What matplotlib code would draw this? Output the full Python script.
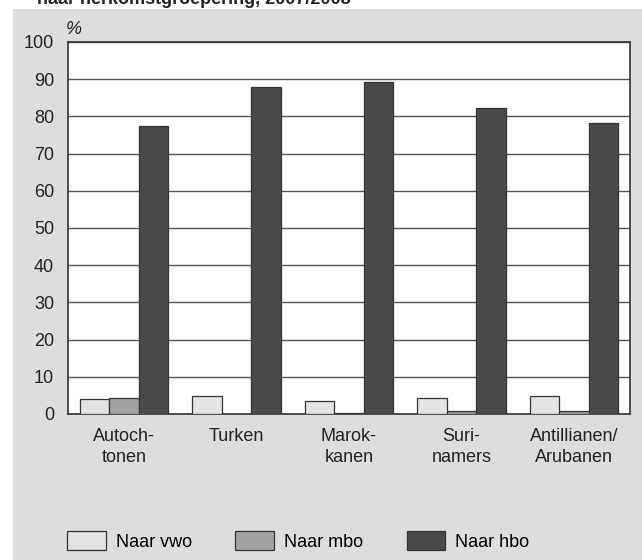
import matplotlib
matplotlib.use('Agg')
import matplotlib.pyplot as plt
import matplotlib.patches as mpatches
import numpy as np

plt.rcParams['font.family'] = ['Liberation Sans', 'DejaVu Sans']

# data
groups = ['Autoch-\ntonen', 'Turken', 'Marok-\nkanen', 'Suri-\nnamers', 'Antillianen/\nArubanen']
series = ['Naar vwo', 'Naar mbo', 'Naar hbo']
vwo = [4.0, 4.9, 3.6, 4.4, 4.9]
mbo = [4.2, 0.1, 0.4, 0.9, 0.7]
hbo = [77.5, 88.0, 89.3, 82.3, 78.3]
colors = ['#e2e3e5', '#a0a1a3', '#4a4a4c']
yticks = list(range(0, 101, 10))

W, H = 642, 560
fig = plt.figure(figsize=(W / 100, H / 100), dpi=100)
fig.patch.set_facecolor('white')

# grey panel behind the chart
panel = mpatches.Rectangle((13 / W, 0), 1 - 13 / W, 1 - 9 / H, transform=fig.transFigure,
                           facecolor='#dcdddf', edgecolor='none', zorder=-10)
fig.patches.append(panel)

# title, mostly cut off at the top edge (as in the source)
fig.text(37 / W, 1 - 4 / H, 'naar herkomstgroepering, 2007/2008', fontsize=13,
         fontweight='bold', va='baseline', ha='left', color='#222222')

ax = fig.add_axes([68 / W, 1 - 414 / H, 562 / W, 372 / H])
ax.set_facecolor('white')

x = np.arange(len(groups))
bw = 0.262
handles = []
for i, (vals, c, name) in enumerate(zip([vwo, mbo, hbo], colors, series)):
    b = ax.bar(x + (i - 1) * bw, vals, bw, color=c, edgecolor='#333333',
               linewidth=0.9, label=name, zorder=3)
    handles.append(b)

ax.set_xlim(-0.5, len(groups) - 0.5)
ax.set_ylim(0, 100)
ax.set_yticks(yticks)
ax.set_yticklabels([str(t) for t in yticks])
ax.set_xticks(x)
ax.set_xticklabels(groups, linespacing=1.3)
ax.tick_params(axis='both', length=0, labelsize=13, colors='#222222')
ax.tick_params(axis='y', pad=10)
ax.tick_params(axis='x', pad=10)
ax.grid(axis='y', color='#555555', linewidth=1.0)
ax.set_axisbelow(True)
for s in ax.spines.values():
    s.set_color('#333333')
    s.set_linewidth(1.2)

fig.text(66 / W, 1 - 34 / H, '%', fontsize=13, style='italic', va='baseline',
         ha='left', color='#222222')

fig.legend(handles=handles, labels=series, loc='lower left',
           bbox_to_anchor=(60 / W, 2 / H), ncol=3, frameon=False, fontsize=13,
           handlelength=2.15, handleheight=1.28, handletextpad=0.55,
           columnspacing=2.4, borderaxespad=0)

fig.savefig('out.png', dpi=100)
